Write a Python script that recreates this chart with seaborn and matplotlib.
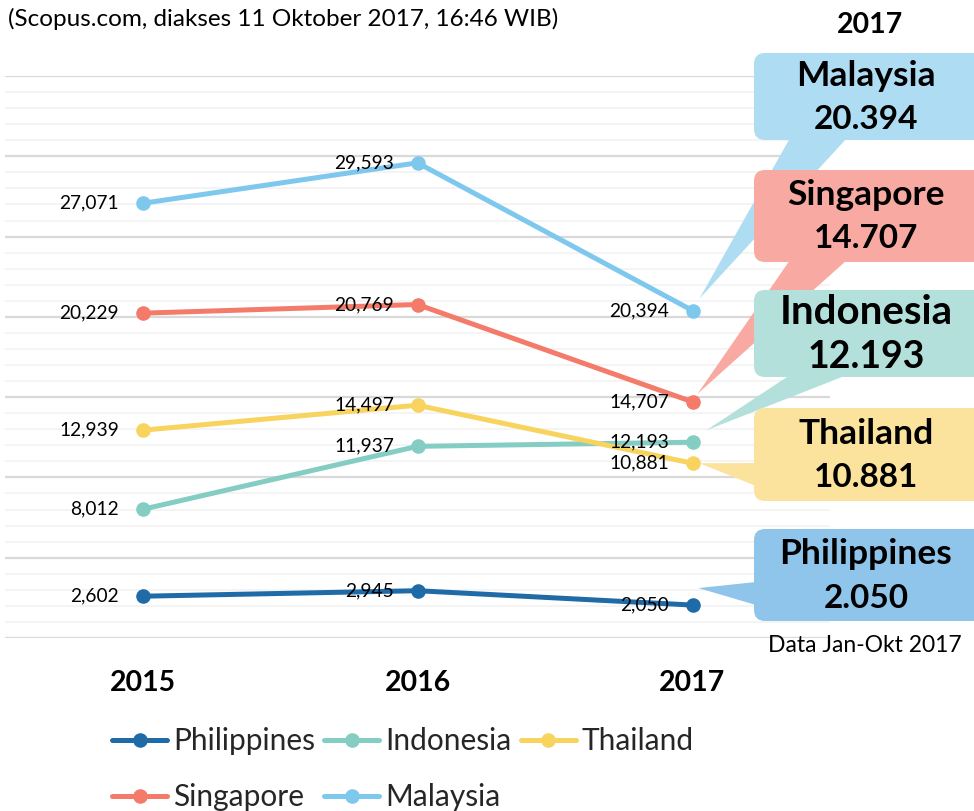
import numpy as np
import pandas as pd
import matplotlib
matplotlib.use("Agg")
import matplotlib.pyplot as plt
import seaborn as sns
from matplotlib.patches import FancyBboxPatch, Polygon
from matplotlib.transforms import IdentityTransform
from matplotlib.ticker import MultipleLocator

# ---------------- data ----------------
years = ["2015", "2016", "2017"]
countries = ["Philippines", "Indonesia", "Thailand", "Singapore", "Malaysia"]
philippines = [2602, 2945, 2050]
indonesia = [8012, 11937, 12193]
thailand = [12939, 14497, 10881]
singapore = [20229, 20769, 14707]
malaysia = [27071, 29593, 20394]
series = [philippines, indonesia, thailand, singapore, malaysia]

line_colors = ["#1F6BA8", "#84CDC3", "#F8D35E", "#F47A6A", "#7EC8EE"]
box_colors = ["#90C5EB", "#B3E0DB", "#FBE29D", "#F8AAA2", "#AEDDF3"]
callout_values = ["2.050", "12.193", "10.881", "14.707", "20.394"]

title_text = "(Scopus.com, diakses 11 Oktober 2017, 16:46 WIB)"
note_text = "Data Jan-Okt 2017"

df = pd.DataFrame({
    "year": years * len(countries),
    "value": sum(series, []),
    "country": np.repeat(countries, len(years)),
})

# ---------------- figure ----------------
sns.set_theme(style="white")
FONT = ["Lato", "DejaVu Sans"]
plt.rcParams["font.family"] = FONT

W, H = 974, 811
fig = plt.figure(figsize=(W / 100, H / 100), dpi=100)
ax = fig.add_axes([5 / W, (H - 638) / H, (830 - 5) / W, (638 - 76) / H])

sns.lineplot(data=df, x="year", y="value", hue="country", hue_order=countries,
             palette=line_colors, marker="o", markersize=10.5, markeredgewidth=0,
             linewidth=3.6, sort=False, ax=ax, legend=True)

ax.set_xlim(-0.5, 2.5)
ax.set_ylim(0, 35000)
ax.yaxis.set_major_locator(MultipleLocator(5000))
ax.yaxis.set_minor_locator(MultipleLocator(1000))
ax.grid(which="major", axis="y", color="#D9D9D9", linewidth=1.6, zorder=0)
ax.grid(which="minor", axis="y", color="#F2F2F2", linewidth=1.2, zorder=0)
ax.set_axisbelow(True)
ax.set_yticklabels([])
ax.tick_params(axis="y", which="both", length=0)
ax.tick_params(axis="x", length=0, pad=23)
for lab in ax.get_xticklabels():
    lab.set_fontweight("bold")
    lab.set_fontsize(20.5)
    lab.set_color("black")
ax.set_xlabel("")
ax.set_ylabel("")
for sp in ax.spines.values():
    sp.set_visible(False)

# data labels
for vals in series:
    for i, v in enumerate(vals):
        ax.annotate(f"{v:,}", xy=(i, v), xytext=(-17, 0), textcoords="offset points",
                    ha="right", va="center", fontsize=13.8, color="black", zorder=5)

# legend (row-major order: Philippines, Indonesia, Thailand / Singapore, Malaysia)
handles, labels = ax.get_legend_handles_labels()
hmap = dict(zip(labels, handles))
order = ["Philippines", "Singapore", "Indonesia", "Malaysia", "Thailand"]
ax.legend_.remove()
fig.legend([hmap[k] for k in order], order, ncol=3, frameon=False,
           loc="upper left", bbox_to_anchor=(112 / W, 1 - 727 / H),
           fontsize=21.5, handlelength=1.85, handletextpad=0.2, columnspacing=0.3,
           labelspacing=0.95, borderpad=0, borderaxespad=0)

# ---------------- callouts ----------------
ID = IdentityTransform()
def P(x, ytop):
    return (x, H - ytop)

callouts = [
    # Philippines
    dict(top=529, bot=621, base=[(756, 582), (756, 605)], tip=(6, -17), fs=(25.5, 24)),
    # Indonesia
    dict(top=290, bot=377, base=[(790, 375), (847, 375)], tip=(14, -12), fs=(29, 27)),
    # Thailand
    dict(top=408, bot=501, base=[(756, 463), (756, 486)], tip=(7, 0), fs=(25.5, 24)),
    # Singapore
    dict(top=170, bot=262, base=[(790, 260), (847, 260)], tip=(5, -8), fs=(25.5, 24)),
    # Malaysia
    dict(top=53, bot=140, base=[(790, 138), (847, 138)], tip=(7, -12), fs=(25.5, 24)),
]
draw_order = [4, 3, 1, 2, 0]  # Malaysia, Singapore, Indonesia, Thailand, Philippines
fig.canvas.draw()
for k in draw_order:
    c = callouts[k]
    col = box_colors[k]
    px, py = ax.transData.transform((2, series[k][2]))
    tip = (px + c["tip"][0], py - c["tip"][1])
    poly = Polygon([P(*c["base"][0]), P(*c["base"][1]), tip], closed=True,
                   transform=ID, facecolor=col, edgecolor="none", zorder=2)
    fig.add_artist(poly)
    x0, x1 = 754, 990
    box = FancyBboxPatch(P(x0, c["bot"]), x1 - x0, c["bot"] - c["top"],
                         boxstyle="round,pad=0,rounding_size=11", transform=ID,
                         facecolor=col, edgecolor="none", zorder=2)
    fig.add_artist(box)
    cy = (c["top"] + c["bot"]) / 2
    fig.text(866, H - (cy - 21), countries[k], transform=ID, ha="center", va="center",
             fontsize=c["fs"][0], fontweight="bold", color="black", zorder=4)
    fig.text(866, H - (cy + 23), callout_values[k], transform=ID, ha="center", va="center",
             fontsize=c["fs"][1], fontweight="bold", color="black", zorder=4)

# ---------------- texts ----------------
fig.text(8, H - 19, title_text, transform=ID, ha="left", va="center", fontsize=17.5, color="black")
fig.text(870, H - 25, "2017", transform=ID, ha="center", va="center", fontsize=20.5,
         fontweight="bold", color="black")
fig.text(865, H - 646, note_text, transform=ID, ha="center", va="center", fontsize=16.5,
         color="black")

fig.savefig("out.png", dpi=100, facecolor="white")
